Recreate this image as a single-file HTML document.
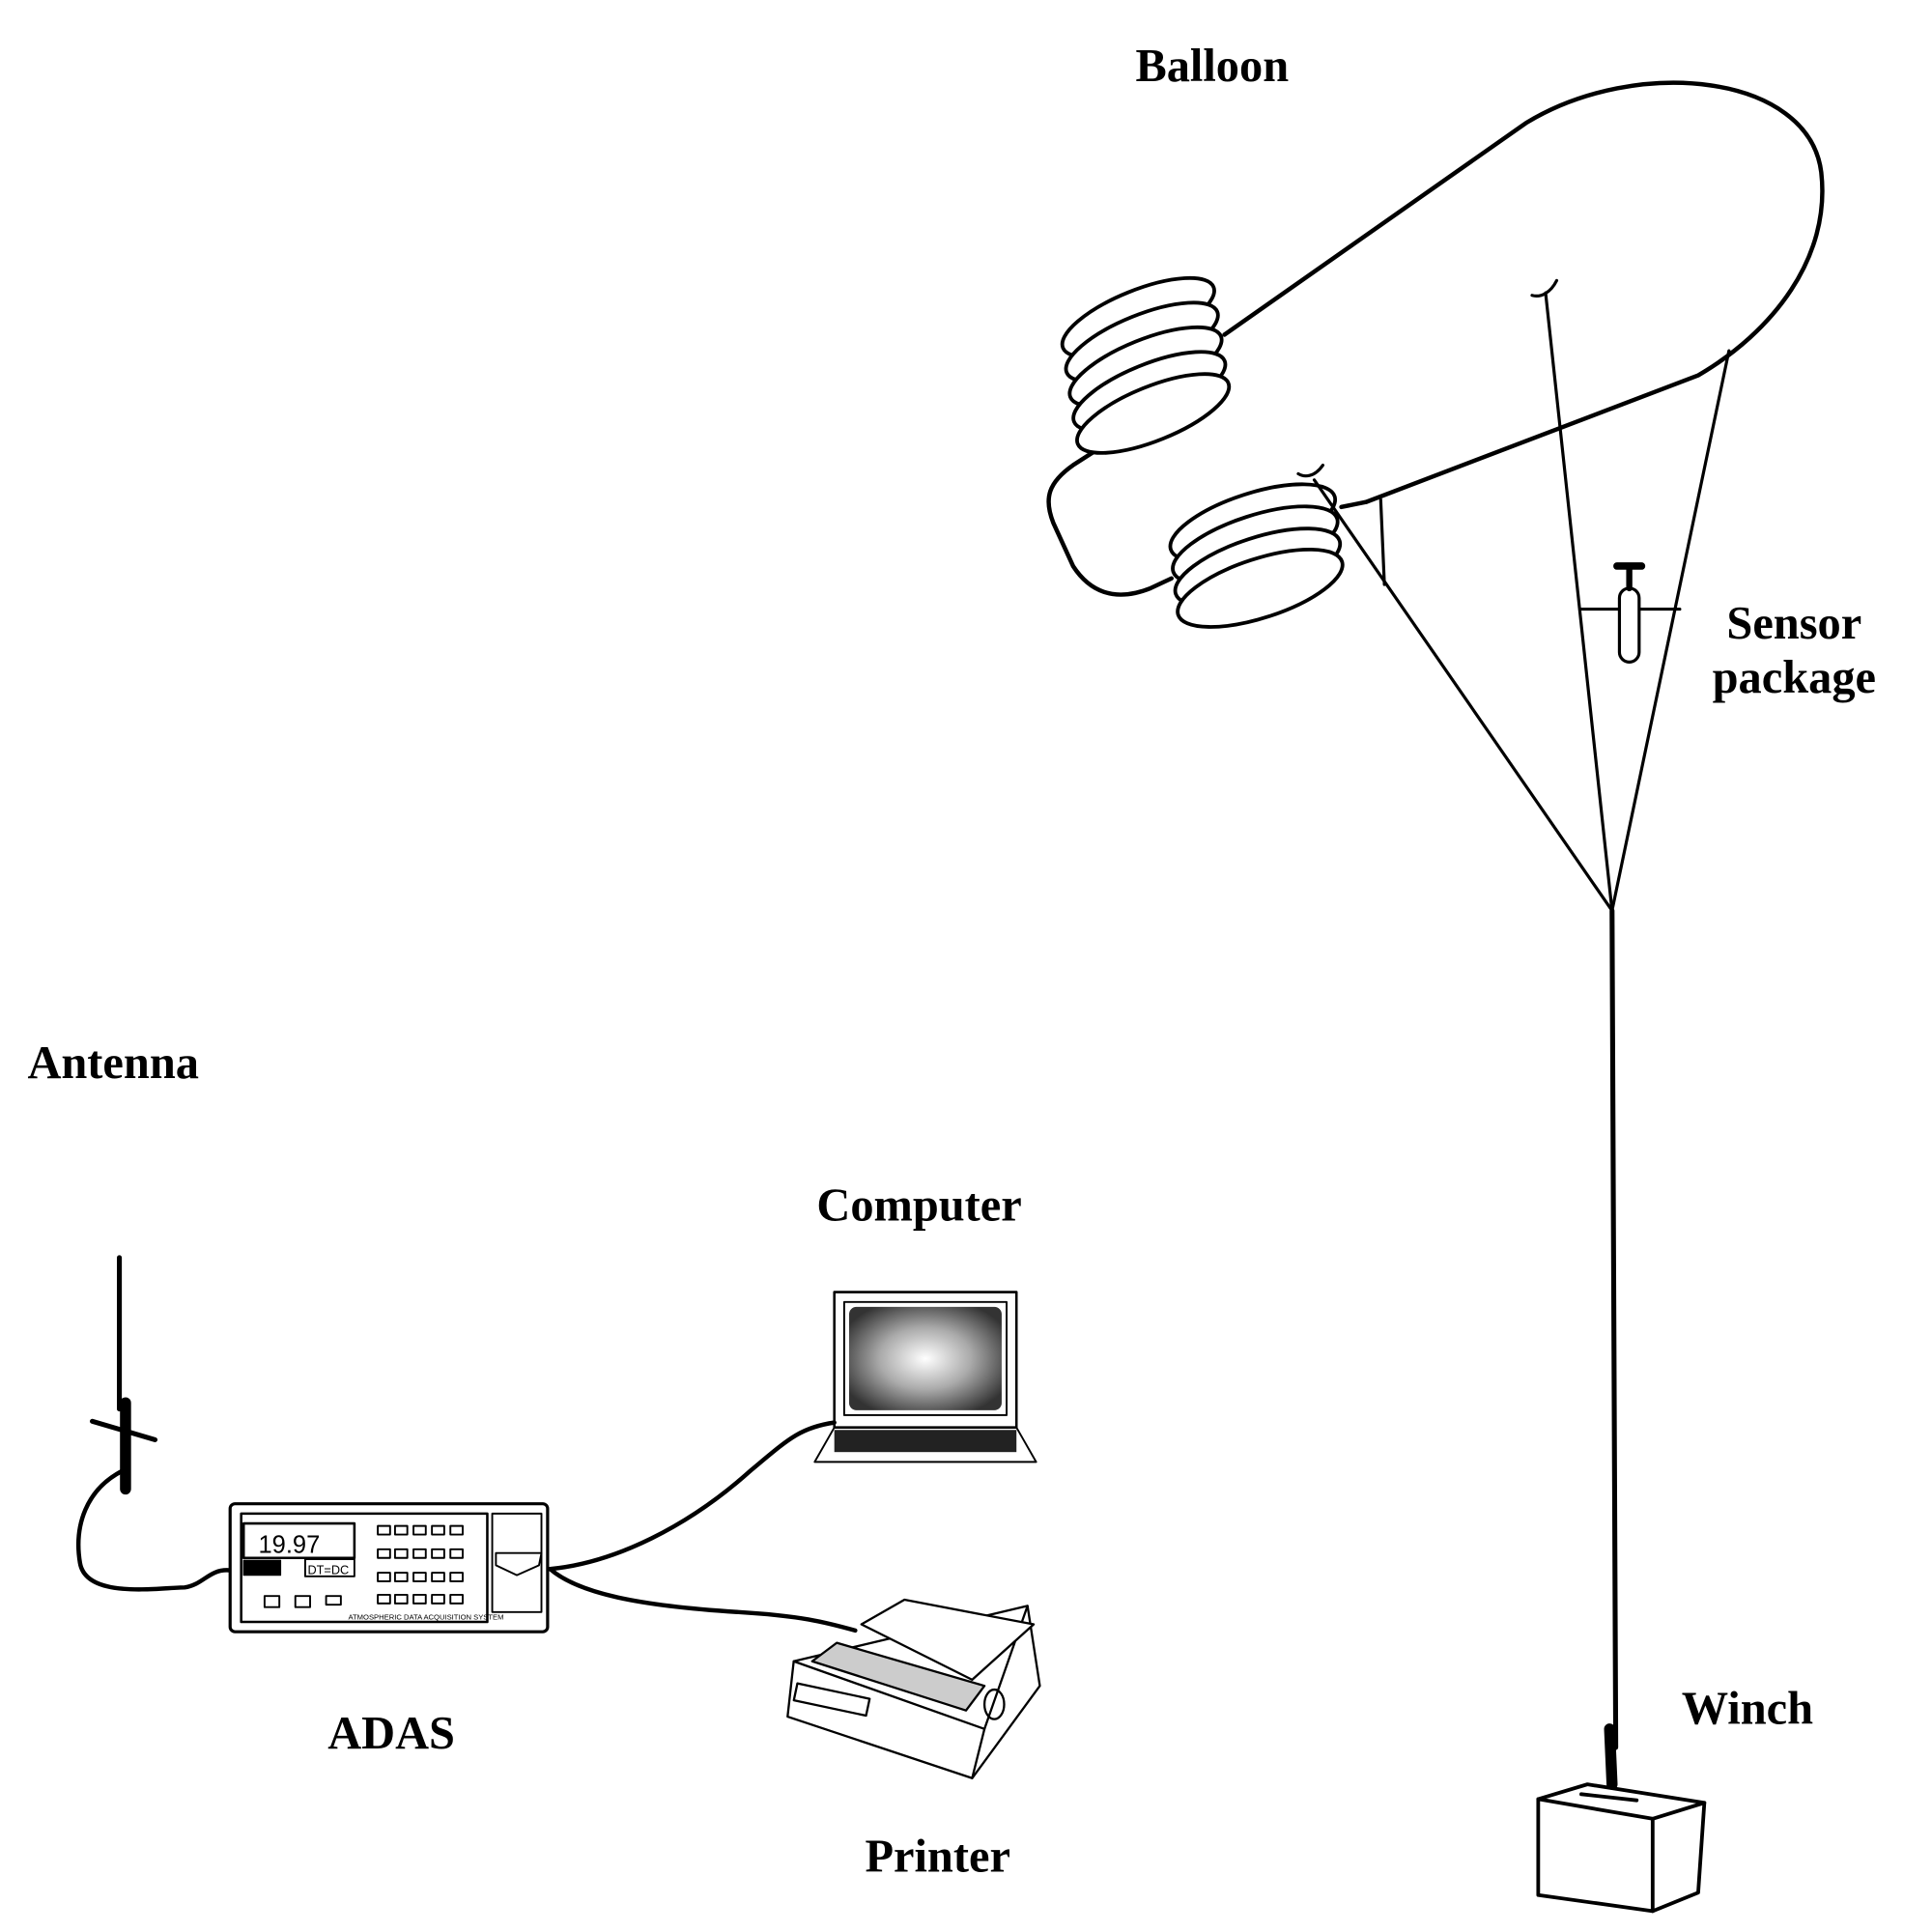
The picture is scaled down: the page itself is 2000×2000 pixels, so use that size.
<!DOCTYPE html>
<html><head><meta charset="utf-8"><style>
html,body{margin:0;padding:0;background:#fff;}
svg{display:block;}
text{font-family:"Liberation Serif",serif;font-weight:bold;font-size:38px;fill:#000;}
</style></head><body>
<svg width="2000" height="2000" viewBox="0 0 1570 1570" xmlns="http://www.w3.org/2000/svg">
<defs>
<radialGradient id="scr" cx="0.5" cy="0.5" r="0.6">
<stop offset="0" stop-color="#fff"/><stop offset="0.5" stop-color="#aaa"/><stop offset="1" stop-color="#333"/>
</radialGradient>
</defs>
<text x="985" y="66" text-anchor="middle">Balloon</text>
<text x="92" y="876" text-anchor="middle">Antenna</text>
<text x="747" y="992" text-anchor="middle">Computer</text>
<text x="318" y="1421" text-anchor="middle">ADAS</text>
<text x="762" y="1521" text-anchor="middle">Printer</text>
<text x="1420" y="1401" text-anchor="middle">Winch</text>
<text x="1458" y="519" text-anchor="middle">Sensor</text>
<text x="1458" y="563" text-anchor="middle">package</text>

<g fill="none" stroke="#000" stroke-width="3.5" stroke-linecap="round" stroke-linejoin="round">
<path d="M995,272 L1240,100 C1330,45 1470,60 1480,140 C1488,210 1440,270 1380,305 L1110,408"/>
<path d="M1090,412 L1110,408"/>
<path d="M952,470 L935,478 C905,490 885,480 872,460 L856,425 C848,405 852,392 872,378 L900,360"/>
<g stroke-width="3">
<ellipse cx="925" cy="258" rx="66" ry="22" transform="rotate(-22 925 258)" fill="#fff"/>
<ellipse cx="928" cy="278" rx="66" ry="22" transform="rotate(-22 928 278)" fill="#fff"/>
<ellipse cx="931" cy="298" rx="66" ry="22" transform="rotate(-22 931 298)" fill="#fff"/>
<ellipse cx="934" cy="318" rx="66" ry="22" transform="rotate(-22 934 318)" fill="#fff"/>
<ellipse cx="937" cy="336" rx="66" ry="22" transform="rotate(-22 937 336)" fill="#fff"/>
<ellipse cx="1018" cy="425" rx="70" ry="24" transform="rotate(-18 1018 425)" fill="#fff"/>
<ellipse cx="1020" cy="443" rx="70" ry="24" transform="rotate(-18 1020 443)" fill="#fff"/>
<ellipse cx="1022" cy="461" rx="70" ry="24" transform="rotate(-18 1022 461)" fill="#fff"/>
<ellipse cx="1024" cy="478" rx="70" ry="24" transform="rotate(-18 1024 478)" fill="#fff"/>
</g>
<g stroke-width="2.5">
<path d="M1068,390 L1310,740"/>
<path d="M1256,238 L1310,740"/>
<path d="M1405,285 L1310,740"/>
<path d="M1122,406 L1125,475"/>
<path d="M1055,385 C1060,388 1068,388 1075,378"/>
<path d="M1245,240 C1252,242 1260,238 1265,228"/>
<path d="M1285,495 L1365,495"/>
</g>
<rect x="1316" y="478" width="16" height="60" rx="8" stroke-width="2.5" fill="#fff"/>
<path d="M1324,462 L1324,478" stroke-width="5"/>
<path d="M1314,460 L1334,460" stroke-width="6"/>
<path d="M1310,740 L1313,1420" stroke-width="4"/>
<path d="M1308,1405 L1310,1450" stroke-width="9"/>
<path d="M1250,1462 L1290,1450 L1385,1465 L1343,1478 Z" stroke-width="3"/>
<path d="M1250,1462 L1250,1540 L1343,1553 L1343,1478" stroke-width="3"/>
<path d="M1343,1553 L1380,1538 L1385,1465" stroke-width="3"/>
<path d="M1285,1458 L1330,1463" stroke-width="3"/>
<path d="M97,1022 L97,1145" stroke-width="4"/>
<path d="M102,1140 L102,1210" stroke-width="9"/>
<path d="M75,1155 L126,1170" stroke-width="4"/>
<path d="M100,1195 C70,1210 60,1240 65,1270 C70,1300 130,1290 150,1290 C165,1288 170,1275 186,1276" stroke-width="3.5"/>
<rect x="187" y="1222" width="258" height="104" rx="4" stroke-width="2.5"/>
<rect x="196" y="1230" width="200" height="88" stroke-width="2"/>
<rect x="198" y="1238" width="90" height="28" stroke-width="2"/>
<rect x="198" y="1268" width="30" height="12" fill="#000" stroke-width="1"/>
<rect x="248" y="1267" width="40" height="14" stroke-width="1.5"/>
<rect x="400" y="1230" width="40" height="80" stroke-width="1.5"/>
<path d="M403,1262 L440,1262 L438,1272 L420,1280 L403,1272 Z" stroke-width="1.5"/>
<g stroke-width="1.5">
<rect x="215" y="1297" width="12" height="9"/><rect x="240" y="1297" width="12" height="9"/><rect x="265" y="1297" width="12" height="7"/>
<rect x="307" y="1240" width="10" height="7"/><rect x="321" y="1240" width="10" height="7"/><rect x="336" y="1240" width="10" height="7"/><rect x="351" y="1240" width="10" height="7"/><rect x="366" y="1240" width="10" height="7"/>
<rect x="307" y="1259" width="10" height="7"/><rect x="321" y="1259" width="10" height="7"/><rect x="336" y="1259" width="10" height="7"/><rect x="351" y="1259" width="10" height="7"/><rect x="366" y="1259" width="10" height="7"/>
<rect x="307" y="1278" width="10" height="7"/><rect x="321" y="1278" width="10" height="7"/><rect x="336" y="1278" width="10" height="7"/><rect x="351" y="1278" width="10" height="7"/><rect x="366" y="1278" width="10" height="7"/>
<rect x="307" y="1296" width="10" height="7"/><rect x="321" y="1296" width="10" height="7"/><rect x="336" y="1296" width="10" height="7"/><rect x="351" y="1296" width="10" height="7"/><rect x="366" y="1296" width="10" height="7"/>
</g>
<path d="M447,1275 C500,1270 560,1240 610,1195 C640,1170 650,1160 678,1156" stroke-width="3.5"/>
<path d="M447,1275 C470,1295 520,1305 600,1310 C650,1313 670,1318 695,1325" stroke-width="3.5"/>
<rect x="678" y="1050" width="148" height="110" stroke-width="2"/>
<rect x="686" y="1058" width="132" height="92" stroke-width="1.5"/>
<rect x="690" y="1062" width="124" height="84" rx="6" fill="url(#scr)" stroke="none"/>
<path d="M678,1160 L826,1160 L842,1188 L662,1188 Z" stroke-width="1.5"/>
<rect x="678" y="1162" width="148" height="18" fill="#222" stroke="none"/>
<g stroke-width="1.8">
<path d="M645,1350 L835,1305 L845,1370 L790,1445 L640,1395 Z" fill="#fff"/>
<path d="M645,1350 L800,1405 L835,1305"/>
<path d="M800,1405 L790,1445"/>
<path d="M700,1320 L735,1300 L840,1320 L790,1365 Z" fill="#fff"/>
<path d="M660,1350 L785,1390 L800,1370 L680,1335 Z" fill="#ccc"/>
<rect x="648" y="1368" width="60" height="14" transform="rotate(12 648 1368)"/>
<ellipse cx="808" cy="1385" rx="8" ry="12"/>
</g>
</g>
<text x="210" y="1262" style="font-family:'Liberation Sans',sans-serif;font-weight:normal;font-size:20px">19.97</text>
<text x="250" y="1279" style="font-family:'Liberation Sans',sans-serif;font-weight:normal;font-size:10px">DT=DC</text>
<text x="283" y="1316" style="font-family:'Liberation Sans',sans-serif;font-weight:normal;font-size:6px">ATMOSPHERIC DATA ACQUISITION SYSTEM</text>
</svg>
</body></html>
